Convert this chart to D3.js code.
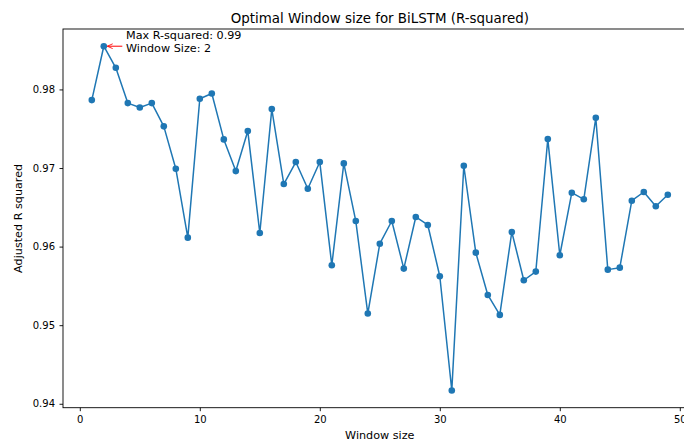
<!DOCTYPE html>
<html>
<head>
<meta charset="utf-8">
<script src="https://cdn.jsdelivr.net/npm/d3@7"></script>
<style>
  html, body { margin: 0; padding: 0; background: #fff; overflow: hidden; }
  svg { display: block; font-family: "DejaVu Sans", sans-serif; }
</style>
</head>
<body>
<svg id="chart" width="684" height="442"></svg>
<script>
// Window sizes tried and the adjusted R² obtained for each
const windowSizes = d3.range(1, 50);
const rSquared = [
  0.97864, 0.98550, 0.98275, 0.97826, 0.97771, 0.97826, 0.97530, 0.96991, 0.96114, 0.97881,
  0.97949, 0.97364, 0.96961, 0.97470, 0.96173, 0.97750, 0.96796, 0.97076, 0.96737, 0.97076,
  0.95763, 0.97059, 0.96325, 0.95148, 0.96037, 0.96326, 0.95720, 0.96377, 0.96275, 0.95623,
  0.94169, 0.97029, 0.95923, 0.95385, 0.95131, 0.96186, 0.95572, 0.95682, 0.97368, 0.95890,
  0.96686, 0.96602, 0.97639, 0.95707, 0.95732, 0.96584, 0.96695, 0.96513, 0.96660
];
const xTicks = [0, 10, 20, 30, 40, 50];
const yTicks = [0.94, 0.95, 0.96, 0.97, 0.98];

const titleText = "Optimal Window size for BiLSTM (R-squared)";
const xLabel = "Window size";
const yLabel = "Adjusted R squared";

const data = windowSizes.map((w, i) => ({ w, r: rSquared[i] }));

const svg = d3.select("#chart");
const plot = { left: 63, top: 29, right: 696.6, bottom: 407.7 };
const blue = "#1f77b4";

// 5% padding around the data range on both axes
function padded(ext) {
  const span = ext[1] - ext[0];
  return [ext[0] - span * 0.05, ext[1] + span * 0.05];
}
const x = d3.scaleLinear().domain(padded(d3.extent(windowSizes))).range([plot.left, plot.right]);
const y = d3.scaleLinear().domain(padded(d3.extent(rSquared))).range([plot.bottom, plot.top]);

// Axes
const xAxis = d3.axisBottom(x).tickValues(xTicks).tickFormat(d3.format("d")).tickSizeOuter(0).tickSize(3.5).tickPadding(4.5);
const yAxis = d3.axisLeft(y).tickValues(yTicks).tickFormat(d3.format(".2f")).tickSizeOuter(0).tickSize(3.5).tickPadding(4.5);

const gx = svg.append("g").attr("transform", `translate(0,${plot.bottom})`).call(xAxis);
const gy = svg.append("g").attr("transform", `translate(${plot.left},0)`).call(yAxis);
[gx, gy].forEach(g => {
  g.select(".domain").remove();
  g.selectAll("line").attr("stroke", "#000").attr("stroke-width", 0.9);
  g.selectAll("text").attr("fill", "#000").attr("font-size", 10).attr("font-family", "DejaVu Sans, sans-serif");
});

// Frame
svg.append("rect")
  .attr("x", plot.left).attr("y", plot.top)
  .attr("width", plot.right - plot.left).attr("height", plot.bottom - plot.top)
  .attr("fill", "none").attr("stroke", "#000").attr("stroke-width", 0.9);

// Line and markers
svg.append("path")
  .datum(data)
  .attr("fill", "none")
  .attr("stroke", blue)
  .attr("stroke-width", 1.5)
  .attr("stroke-linejoin", "round")
  .attr("d", d3.line().x(d => x(d.w)).y(d => y(d.r)));

svg.append("g").selectAll("circle")
  .data(data)
  .join("circle")
  .attr("cx", d => x(d.w))
  .attr("cy", d => y(d.r))
  .attr("r", 3.3)
  .attr("fill", blue);

// Annotation of the best window
const best = data.reduce((a, b) => (b.r > a.r ? b : a));
const px = x(best.w), py = y(best.r);
const tx = px + 22.2;
svg.append("defs").append("marker")
  .attr("id", "arrowhead")
  .attr("viewBox", "0 0 10 10")
  .attr("refX", 9).attr("refY", 5)
  .attr("markerWidth", 6).attr("markerHeight", 6)
  .attr("markerUnits", "userSpaceOnUse")
  .attr("orient", "auto")
  .append("path")
  .attr("d", "M0,1 L9,5 L0,9")
  .attr("fill", "none")
  .attr("stroke", "red")
  .attr("stroke-width", 1.4);
svg.append("line")
  .attr("x1", tx - 3.7).attr("y1", py)
  .attr("x2", px + 3.5).attr("y2", py)
  .attr("stroke", "red").attr("stroke-width", 1)
  .attr("marker-end", "url(#arrowhead)");

const ann = svg.append("text")
  .attr("x", tx).attr("font-size", 11.2).attr("fill", "#000");
ann.append("tspan").attr("x", tx).attr("y", py - 7).text(`Max R-squared: ${best.r.toFixed(2)}`);
ann.append("tspan").attr("x", tx).attr("y", py + 5.7).text(`Window Size: ${best.w}`);

// Titles
const cx = (plot.left + plot.right) / 2;
svg.append("text")
  .attr("x", cx).attr("y", 22.5)
  .attr("text-anchor", "middle").attr("font-size", 13.4).attr("fill", "#000")
  .text(titleText);
svg.append("text")
  .attr("x", cx).attr("y", 439)
  .attr("text-anchor", "middle").attr("font-size", 11.2).attr("fill", "#000")
  .text(xLabel);
svg.append("text")
  .attr("transform", `translate(21.5,${(plot.top + plot.bottom) / 2}) rotate(-90)`)
  .attr("text-anchor", "middle").attr("font-size", 11.2).attr("fill", "#000")
  .text(yLabel);
</script>
</body>
</html>
